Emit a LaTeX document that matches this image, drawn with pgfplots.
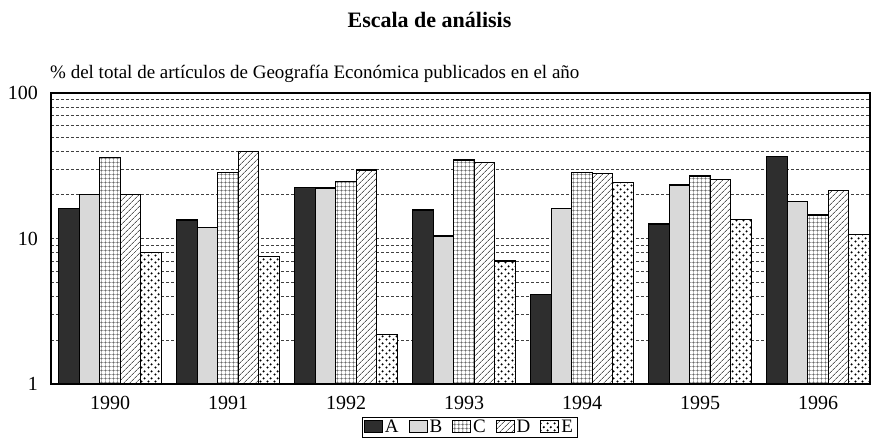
\documentclass[border=0pt]{standalone}
\usepackage{fontspec}
\setmainfont{Liberation Serif}
\usepackage{pgfplots}
\usepackage{pgfplotstable}
\pgfplotsset{compat=1.18}
\usetikzlibrary{patterns,patterns.meta}

\tikzdeclarepattern{name=sparsedots, type=uncolored,
  tile size={(7pt,7pt)}, bounding box={(0pt,0pt) and (7pt,7pt)},
  code={\fill (1.75pt,1.75pt) circle (1.3pt); \fill (5.25pt,5.25pt) circle (1.3pt);}}
\tikzdeclarepattern{name=mygrid, type=uncolored,
  tile size={(4.2pt,4.2pt)}, bounding box={(0pt,0pt) and (4.2pt,4.2pt)},
  code={\draw[line width=0.5pt] (0pt,2.1pt)--(4.2pt,2.1pt); \draw[line width=0.5pt] (2.1pt,0pt)--(2.1pt,4.2pt);}}

\pgfplotstableread{
x  A     B     C     D     E
0  16.1  20.0  36.1  20.0  8.0
1  13.4  11.9  28.5  39.5  7.5
2  22.4  22.2  24.6  29.6  2.2
3  15.7  10.4  34.6  33.2  7.0
4  4.1   16.1  28.3  28.1  24.3
5  12.6  23.3  26.9  25.5  13.5
6  36.5  17.9  14.5  21.3  10.7
}\datatable

\begin{document}
\begin{tikzpicture}
\begin{axis}[
  at={(0pt,0pt)}, anchor=south west,
  scale only axis, width=819pt, height=291pt,
  ymode=log, ymin=1, ymax=100,
  xmin=-0.5, xmax=6.44,
  ybar=0pt, bar width=20.5pt,
  xtick={0,1,2,3,4,5,6},
  xticklabels={1990,1991,1992,1993,1994,1995,1996},
  ytick={1,10,100}, yticklabels={1,10,100},
  minor ytick={2,3,4,5,6,7,8,9,20,30,40,50,60,70,80,90},
  ymajorgrids, yminorgrids,
  major grid style={densely dashed, line width=0.5pt, black!75},
  minor grid style={densely dashed, line width=0.5pt, black!75},
  major tick length=0pt, minor tick length=0pt,
  axis line style={line width=1.3pt},
  tick label style={font=\fontsize{20}{23}\selectfont},
  /pgf/number format/assume math mode=true,
  yticklabel style={anchor=east, inner sep=0pt, xshift=-13pt},
  xticklabel style={anchor=north, inner sep=0pt, yshift=-12pt},
  legend columns=5,
  legend style={at={(0.511,-0.113)}, anchor=north, draw=black, line width=0.9pt,
    font=\fontsize{19}{21}\selectfont, inner xsep=2pt, inner ysep=1pt,
    /tikz/every even column/.append style={column sep=8pt}},
  legend image code/.code={\draw[#1, line width=0.9pt] (0pt,-5pt) rectangle (18pt,7pt);},
]
\addplot[draw=black, line width=1.3pt, fill=black!82] table[x=x,y=A] {\datatable};
\addlegendentry{A}
\addplot[draw=black, line width=1.3pt, fill=gray!30] table[x=x,y=B] {\datatable};
\addlegendentry{B}
\addplot[draw=black, line width=1.3pt, fill=white, postaction={pattern=mygrid}] table[x=x,y=C] {\datatable};
\addlegendentry{C}
\addplot[draw=black, line width=1.3pt, fill=white, postaction={pattern={Lines[angle=45,distance=4pt,line width=0.5pt]}}] table[x=x,y=D] {\datatable};
\addlegendentry{D}
\addplot[draw=black, line width=1.3pt, fill=white, postaction={pattern=sparsedots}] table[x=x,y=E] {\datatable};
\addlegendentry{E}
\end{axis}
\node[anchor=base, inner sep=0pt, font=\bfseries\fontsize{22}{25}\selectfont] at (378.5pt,356pt) {Escala de análisis};
\node[anchor=base west, inner sep=0pt, font=\fontsize{19}{22}\selectfont] at (-1pt,305pt) {\% del total de artículos de Geografía Económica publicados en el año};
\pgfresetboundingbox
\path[use as bounding box] (-51pt,-62pt) rectangle (820pt,384pt);
\end{tikzpicture}
\end{document}
